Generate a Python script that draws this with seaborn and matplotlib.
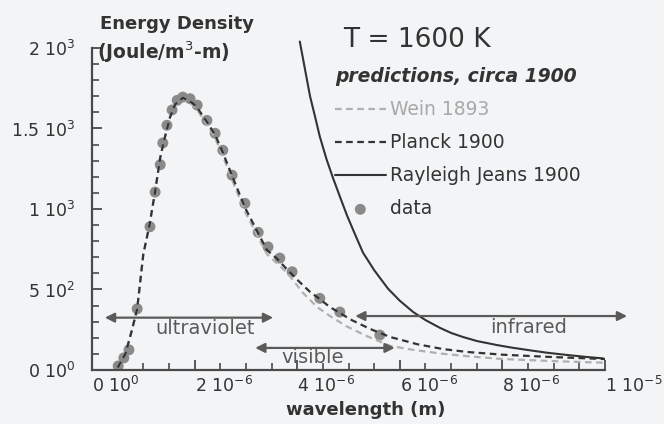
import matplotlib
matplotlib.use("Agg")
import matplotlib.pyplot as plt
import seaborn as sns
import numpy as np
from matplotlib.ticker import FixedLocator, MultipleLocator

# ---- data (wavelength in micrometres, energy density in J/m^3-m)
planck_um = [0.50, 0.65, 0.78, 0.88, 1.00, 1.12, 1.23, 1.33, 1.40, 1.52, 1.62, 1.77, 1.95,
             2.05, 2.24, 2.40, 2.55, 2.75, 2.98, 3.27, 3.41, 3.61, 3.80, 4.05, 4.25, 4.40,
             4.64, 4.83, 5.03, 5.42, 5.81, 6.34, 6.84, 7.31, 8.00, 9.00, 10.00]
planck_u = [15, 100, 250, 380, 720, 900, 1110, 1320, 1420, 1570, 1650, 1690, 1660,
            1630, 1540, 1460, 1350, 1190, 1010, 830, 745, 690, 625, 545, 485, 450,
            390, 355, 315, 255, 205, 160, 130, 112, 95, 80, 68]

wein_um = [0.50, 0.65, 0.78, 0.88, 1.00, 1.12, 1.23, 1.33, 1.40, 1.52, 1.62, 1.77, 1.95,
           2.05, 2.24, 2.40, 2.55, 2.75, 2.98, 3.27, 3.41, 3.80, 4.11, 4.39, 4.64, 4.97,
           5.36, 5.81, 6.20, 6.80, 7.30, 8.00, 9.00, 10.00]
wein_u = [15, 100, 250, 380, 720, 900, 1110, 1320, 1420, 1570, 1650, 1685, 1650,
          1615, 1525, 1440, 1330, 1165, 985, 805, 720, 605, 480, 390, 335, 270,
          210, 150, 128, 102, 86, 68, 55, 45]

rj_um = [4.05, 4.15, 4.25, 4.35, 4.44, 4.57, 4.70, 4.84, 4.97, 5.13, 5.28, 5.50, 5.77,
         6.00, 6.26, 6.50, 6.78, 7.00, 7.23, 7.50, 7.89, 8.20, 8.54, 8.85, 9.18, 9.60, 9.96]
rj_u = [2040, 1870, 1700, 1570, 1450, 1310, 1190, 1070, 960, 840, 730, 620, 505,
        430, 360, 310, 262, 230, 205, 180, 155, 138, 122, 108, 96, 82, 72]

data_um = [0.51, 0.62, 0.72, 0.88, 1.13, 1.23, 1.33, 1.38, 1.46, 1.56, 1.66, 1.77, 1.91,
           2.05, 2.24, 2.40, 2.55, 2.73, 2.98, 3.24, 3.43, 3.66, 3.90, 4.44, 4.83, 5.61]
data_u = [25, 75, 125, 380, 890, 1105, 1275, 1410, 1520, 1615, 1675, 1695, 1685,
          1645, 1550, 1470, 1365, 1210, 1035, 855, 765, 695, 610, 445, 360, 217]

series_labels = ["Wein 1893", "Planck 1900", "Rayleigh Jeans 1900", "data"]

xtick_values_um = [0, 2, 4, 6, 8, 10]
xtick_labels = [r"$0\ 10^{0}$", r"$2\ 10^{-6}$", r"$4\ 10^{-6}$",
                r"$6\ 10^{-6}$", r"$8\ 10^{-6}$", r"$1\ 10^{-5}$"]
ytick_values = [0, 500, 1000, 1500, 2000]
ytick_labels = [r"$0\ 10^{0}$", r"$5\ 10^{2}$", r"$1\ 10^{3}$",
                r"$1.5\ 10^{3}$", r"$2\ 10^{3}$"]

band_names = ["ultraviolet", "visible", "infrared"]
band_start_um = [0.25, 3.18, 5.13]
band_end_um = [3.53, 5.90, 10.43]

um = 1e-6

sns.set_style("ticks")
plt.rcParams["font.family"] = ["DejaVu Sans"]
bg = "#f2f4f6"
ink = "#4a4a4a"

fig = plt.figure(figsize=(6.64, 4.24), dpi=100, facecolor=bg)
ax = fig.add_axes([0.1386, 0.1274, 0.7726, 0.7594])
ax.set_facecolor(bg)

sns.scatterplot(x=np.array(data_um) * um, y=data_u, ax=ax, color="#8a8a8a", s=62,
                edgecolor="none", label=series_labels[3], zorder=2)
sns.lineplot(x=np.array(wein_um) * um, y=wein_u, ax=ax, color="#b0b0b0", lw=1.6,
             linestyle=(0, (3, 2)), label=series_labels[0], zorder=3, sort=False)
sns.lineplot(x=np.array(planck_um) * um, y=planck_u, ax=ax, color="#333333", lw=1.6,
             linestyle=(0, (3, 2)), label=series_labels[1], zorder=4, sort=False)
sns.lineplot(x=np.array(rj_um) * um, y=rj_u, ax=ax, color="#333333", lw=1.5,
             label=series_labels[2], zorder=4, sort=False)
ax.get_lines()[-1].set_clip_on(False)

ax.set_xlim(0, 10 * um)
ax.set_ylim(0, 2000)

for side in ["top", "right"]:
    ax.spines[side].set_visible(False)
for side in ["left", "bottom"]:
    ax.spines[side].set_color(ink)
    ax.spines[side].set_linewidth(1.6)

ax.xaxis.set_major_locator(FixedLocator([v * um for v in xtick_values_um]))
ax.xaxis.set_minor_locator(MultipleLocator(0.5 * um))
ax.set_xticklabels(xtick_labels, ha="left", fontsize=12.5, color="#333333")
ax.yaxis.set_major_locator(FixedLocator(ytick_values))
ax.yaxis.set_minor_locator(MultipleLocator(100))
ax.set_yticklabels(ytick_labels, fontsize=12.5, color="#333333")
ax.tick_params(axis="both", which="major", direction="in", length=7, width=1.3,
               color=ink)
ax.tick_params(axis="both", which="minor", direction="in", length=5, width=1.2,
               color=ink)
ax.tick_params(axis="x", which="major", pad=4)
ax.tick_params(axis="y", which="major", pad=12)

ax.set_xlabel("wavelength (m)", fontsize=13, fontweight="bold", color="#333333")
ax.xaxis.set_label_coords(0.534, -0.095)
ax.set_ylabel("")

fig.text(100 / 664, 1 - 24 / 424, "Energy Density", fontsize=13, fontweight="bold",
         color="#333333", va="center", ha="left")
fig.text(97 / 664, 1 - 52 / 424, "(Joule/m$^{3}$-m)", fontsize=13.5, fontweight="bold",
         color="#333333", va="center", ha="left")
fig.text(343 / 664, 1 - 40 / 424, "T = 1600 K", fontsize=19, color="#333333",
         va="center", ha="left")

# spectral band arrows
band_levels = [325, 137, 335]
text_levels = [255, 75, 262]
text_pos_um = [2.2, 4.3, 8.5]
for name, a, b, lv, tl, tp in zip(band_names, band_start_um, band_end_um,
                                  band_levels, text_levels, text_pos_um):
    ax.annotate("", xy=(a * um, lv), xytext=(b * um, lv),
                arrowprops=dict(arrowstyle="<|-|>", color="#5a5a5a", lw=1.6,
                                mutation_scale=14, shrinkA=0, shrinkB=0),
                annotation_clip=False, zorder=5)
    ax.text(tp * um, tl, name, ha="center", va="center", fontsize=14,
            color="#5a5a5a", zorder=5)

handles, labels = ax.get_legend_handles_labels()
order = [labels.index(l) for l in series_labels]
leg = ax.legend([handles[i] for i in order], [labels[i] for i in order],
                title="predictions, circa 1900", loc="upper left",
                bbox_to_anchor=(335 / 664, 1 - 67 / 424),
                bbox_transform=fig.transFigure, frameon=False, fontsize=13.5,
                handlelength=2.7, handletextpad=0.25, labelspacing=0.75,
                borderpad=0, borderaxespad=0, alignment="left")
leg.get_title().set_fontsize(13.5)
leg.get_title().set_fontweight("bold")
leg.get_title().set_fontstyle("italic")
leg.get_title().set_color("#333333")
for t in leg.get_texts():
    t.set_color("#333333")
leg.get_texts()[0].set_color("#a8a8a8")

fig.savefig("out.png", dpi=100, facecolor=bg)
